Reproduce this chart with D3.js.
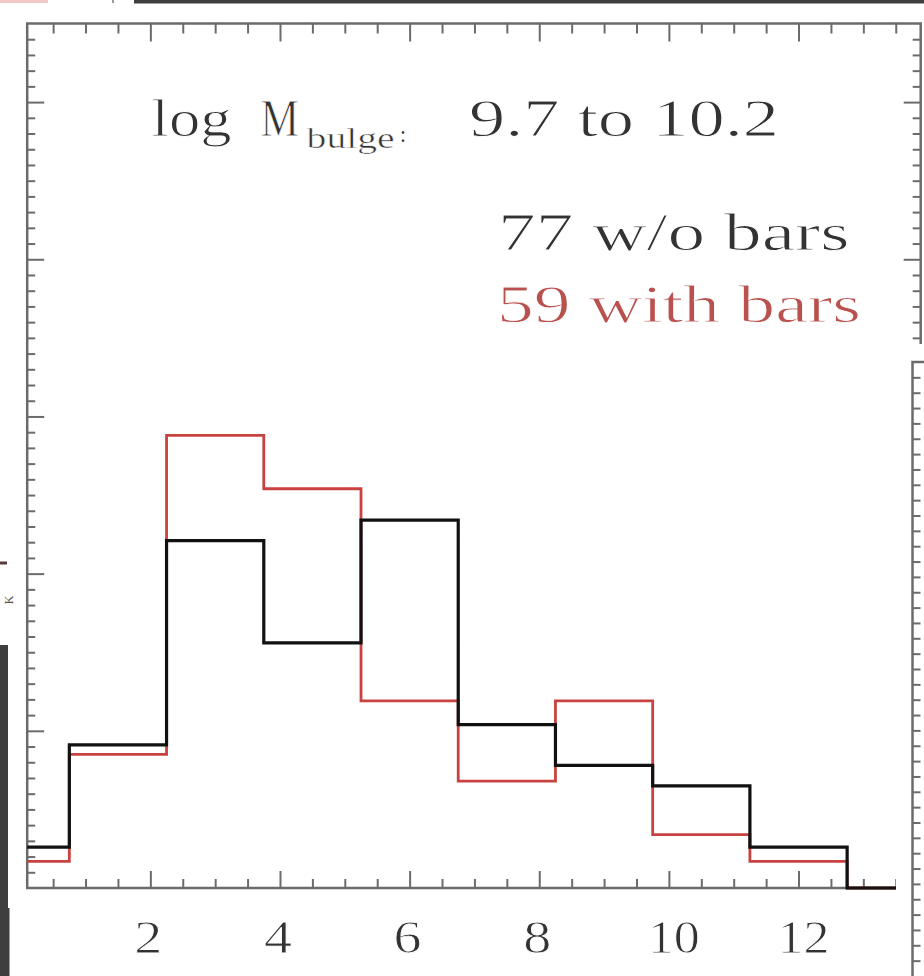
<!DOCTYPE html>
<html>
<head>
<meta charset="utf-8">
<script src="https://d3js.org/d3.v7.min.js"></script>
<style>
  body { margin: 0; background: #fff; }
  svg { display: block; }
  text { font-family: "Liberation Serif", "Times New Roman", serif; }
</style>
</head>
<body>
<svg id="chart" width="924" height="976"></svg>
<script>
// bin edges (x) and histogram fractions
const binEdges = [0.1, 0.75, 2.25, 3.75, 5.25, 6.75, 8.25, 9.75, 11.25, 12.75, 14.25];
const withoutBars = [0.026, 0.091, 0.221, 0.156, 0.234, 0.104, 0.078, 0.065, 0.026, 0];
const withBars    = [0.017, 0.085, 0.288, 0.254, 0.119, 0.068, 0.119, 0.034, 0.017, 0];
const xTickLabels = [2, 4, 6, 8, 10, 12];
const title = "9.7 to 10.2";
const legendLabels = ["77 w/o bars", "59 with bars"];

const svg = d3.select("#chart");
const frameColor = "#6b6b6b";

const x = d3.scaleLinear().domain([0.1, 13.885]).range([27.2, 920.7]);
const y = d3.scaleLinear().domain([0, 0.55]).range([888, 23.5]);

// stretched serif text, the scan is wider than a normal font;
// a thin white stroke makes the glyphs as light as in the scan
function label(str, px, py, fs, width, color, thin) {
    return svg.append("text")
        .attr("x", px).attr("y", py)
        .attr("font-size", fs)
        .attr("fill", color || "#333")
        .attr("stroke", "#fff")
        .attr("stroke-width", thin === undefined ? 0.9 : thin)
        .attr("textLength", width)
        .attr("lengthAdjust", "spacingAndGlyphs")
        .text(str);
}

// frame
svg.append("rect")
    .attr("x", x.range()[0]).attr("y", y.range()[1])
    .attr("width", x.range()[1] - x.range()[0])
    .attr("height", y.range()[0] - y.range()[1])
    .attr("fill", "none").attr("stroke", frameColor).attr("stroke-width", 2.5);

// ticks, all pointing inwards
const xMajor = xTickLabels;
const xMinor = d3.range(0.5, 13.9, 0.5).filter(v => v % 2 !== 0);
const yMajor = [0.1, 0.2, 0.3, 0.4, 0.5];
const yMinor = d3.range(1, 55).map(v => v / 100).filter(v => Math.round(v * 100) % 10 !== 0);

function tickAxis(axis, tf) {
    const g = svg.append("g").attr("transform", tf).call(axis);
    g.select(".domain").remove();
    g.selectAll("text").remove();
    g.selectAll("line").attr("stroke", frameColor).attr("stroke-width", 2);
}
tickAxis(d3.axisBottom(x).tickValues(xMajor).tickSize(-17), `translate(0,${y(0)})`);
tickAxis(d3.axisBottom(x).tickValues(xMinor).tickSize(-9), `translate(0,${y(0)})`);
tickAxis(d3.axisTop(x).tickValues(xMajor).tickSize(-18), `translate(0,${y(0.55)})`);
tickAxis(d3.axisTop(x).tickValues(xMinor).tickSize(-10), `translate(0,${y(0.55)})`);
tickAxis(d3.axisLeft(y).tickValues(yMajor).tickSize(-17), `translate(${x(0.1)},0)`);
tickAxis(d3.axisLeft(y).tickValues(yMinor).tickSize(-8), `translate(${x(0.1)},0)`);
tickAxis(d3.axisRight(y).tickValues(yMajor).tickSize(-17), `translate(${x(13.885)},0)`);
tickAxis(d3.axisRight(y).tickValues(yMinor).tickSize(-8), `translate(${x(13.885)},0)`);

// histograms
const step = d3.line().curve(d3.curveStepAfter).x(d => x(d[0])).y(d => y(d[1]));
function series(vals) {
    const pts = vals.map((v, i) => [binEdges[i], v]);
    pts.push([binEdges[binEdges.length - 1], vals[vals.length - 1]]);
    return pts;
}
svg.append("path").attr("d", step(series(withBars)))
    .attr("fill", "none").attr("stroke", "#c8423f").attr("stroke-width", 2.8);
svg.append("path").attr("d", step(series(withoutBars)))
    .attr("fill", "none").attr("stroke", "#111").attr("stroke-width", 3.2);

// x tick labels
xTickLabels.forEach(v => {
    const w = v >= 10 ? 52 : 28;
    label(String(v), x(v) - w / 2 + (v >= 10 ? 5 : -2), 953, 46, w, "#333", 0.8);
});

// annotation
label("log", 151.5, 136, 52, 80);
label("M", 260.6, 136, 52, 38.5);
label("bulge", 306.6, 148, 29, 88, "#333", 0.5);
label(":", 400, 142, 24, 6, "#333", 0);
label(title, 469, 136, 52, 310);
label(legendLabels[0], 498, 250, 53, 351.5);
label(legendLabels[1], 497, 321.7, 53, 364, "#b9524e");

// pieces of the neighbouring panels in the scan
svg.append("rect").attr("x", 134).attr("y", 0).attr("width", 790).attr("height", 3.5).attr("fill", "#3e3e3e");
svg.append("rect").attr("x", 0).attr("y", 0).attr("width", 48).attr("height", 3).attr("fill", "#f3c9c6");
svg.append("line").attr("x1", 113).attr("x2", 113).attr("y1", 0).attr("y2", 3).attr("stroke", "#999").attr("stroke-width", 2);
svg.append("rect").attr("x", 0).attr("y", 645).attr("width", 8).attr("height", 263).attr("fill", "#3e3e3e");
svg.append("rect").attr("x", 0).attr("y", 908).attr("width", 9.5).attr("height", 68).attr("fill", "#3e3e3e");
svg.append("rect").attr("x", 0).attr("y", 561.5).attr("width", 7).attr("height", 3).attr("fill", "#5a3a3a");
svg.append("text").attr("transform", "translate(13,600) rotate(-90)")
    .attr("font-size", 12).attr("fill", "#555").attr("text-anchor", "middle").text("K");

const ny = d3.scaleLinear().domain([0, 40]).range([362, 976]);
svg.append("rect").attr("x", 896).attr("y", 344).attr("width", 28).attr("height", 632).attr("fill", "#fff");
svg.append("path").attr("d", "M924,362 H912.5 V976")
    .attr("fill", "none").attr("stroke", frameColor).attr("stroke-width", 2.5);
const ng = svg.append("g").attr("transform", "translate(912.5,0)")
    .call(d3.axisRight(ny).tickValues(d3.range(1, 40)).tickSize(8));
ng.select(".domain").remove();
ng.selectAll("text").remove();
ng.selectAll("line").attr("stroke", frameColor).attr("stroke-width", 2);
</script>
</body>
</html>
